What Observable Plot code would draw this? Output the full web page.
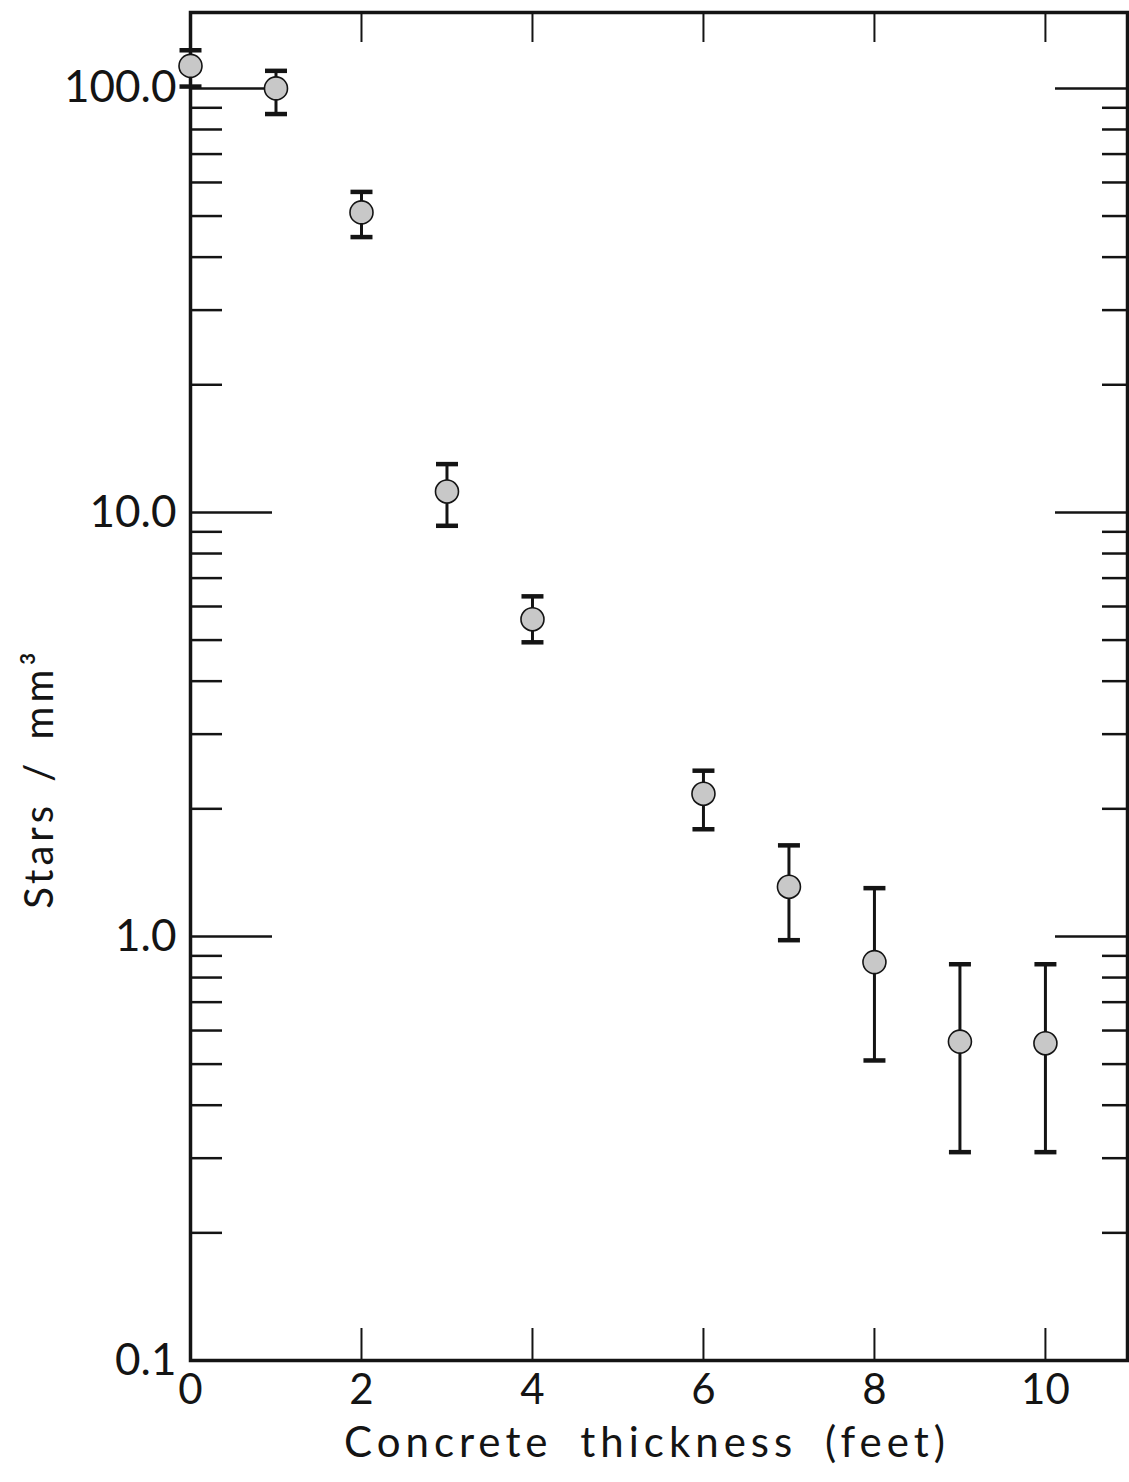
<!DOCTYPE html>
<html><head><meta charset="utf-8">
<script src="https://cdn.jsdelivr.net/npm/d3@7"></script>
<script src="https://cdn.jsdelivr.net/npm/@observablehq/plot@0.6"></script>
<style>
  body { margin: 0; background: #fff; }
  #chart svg { display: block; }
</style>
</head><body><div id="chart"></div>
<script>
// Data
const thickness = [0, 1, 2, 3, 4, 6, 7, 8, 9, 10];
const stars     = [113, 100, 51, 11.2, 5.6, 2.17, 1.31, 0.87, 0.565, 0.56];
const errLow    = [101, 87, 44.6, 9.3, 4.94, 1.79, 0.98, 0.51, 0.31, 0.31];
const errHigh   = [123, 110, 57, 13.0, 6.34, 2.46, 1.64, 1.30, 0.86, 0.86];

// Axis ticks
const xTickLabels = [0, 2, 4, 6, 8, 10];
const xInnerTicks = [2, 4, 6, 8, 10];
const yTickLabels = [0.1, 1, 10, 100];
const yMajorTicks = [1, 10, 100];
const yMinorTicks = [0.2, 0.3, 0.4, 0.5, 0.6, 0.7, 0.8, 0.9,
                     2, 3, 4, 5, 6, 7, 8, 9,
                     20, 30, 40, 50, 60, 70, 80, 90];
const xTitle = "Concrete thickness (feet)";
const yTitle = "Stars / mm³";

const data = thickness.map((x, i) => ({x, y: stars[i], lo: errLow[i], hi: errHigh[i]}));

const W = 1129, H = 1482, mL = 190, mT = 12, mR = 2, mB = 122;
const pW = W - mL - mR, pH = H - mT - mB;
const ink = "#141414";
const font = "Lato, 'DejaVu Sans', sans-serif";

const capSymbol = {
  draw(context, size) {
    const w = Math.sqrt(size / Math.PI);
    context.moveTo(-w, 0);
    context.lineTo(w, 0);
  }
};

const chart = Plot.plot({
  width: W, height: H,
  marginLeft: mL, marginTop: mT, marginRight: mR, marginBottom: mB,
  style: {fontFamily: font, color: ink, background: "#fff"},
  x: {domain: [0, 10.96], axis: null},
  y: {type: "log", domain: [0.1, 151], axis: null},
  marks: [
    // inward ticks
    Plot.tickY(yMajorTicks, {y: d => d, insetRight: pW - 82, stroke: ink, strokeWidth: 2.5}),
    Plot.tickY(yMajorTicks, {y: d => d, insetLeft: pW - 72, stroke: ink, strokeWidth: 2.5}),
    Plot.tickY(yMinorTicks, {y: d => d, insetRight: pW - 32, stroke: ink, strokeWidth: 2.5}),
    Plot.tickY(yMinorTicks, {y: d => d, insetLeft: pW - 25, stroke: ink, strokeWidth: 2.5}),
    Plot.tickX(xInnerTicks, {x: d => d, insetTop: pH - 32, stroke: ink, strokeWidth: 2}),
    Plot.tickX(xInnerTicks, {x: d => d, insetBottom: pH - 30, stroke: ink, strokeWidth: 2}),
    Plot.frame({stroke: ink, strokeWidth: 3.5}),
    // tick labels
    Plot.axisX(xTickLabels, {tickSize: 0, tickPadding: 14, fontSize: 42, fontWeight: 400, label: null, tickFormat: d => String(d)}),
    Plot.axisY(yTickLabels, {tickSize: 0, tickPadding: 14, fontSize: 44, fontWeight: 400, label: null, tickFormat: d => d.toFixed(1)}),
    // axis titles
    Plot.text([xTitle], {frameAnchor: "bottom", dx: -12, dy: 96, text: d => d, fontSize: 42, fontWeight: 400, fill: ink}),
    Plot.text([yTitle], {frameAnchor: "left", textAnchor: "middle", dx: -150, dy: 92, rotate: -90, text: d => d, fontSize: 40, fontWeight: 400, fill: ink}),
    // error bars
    Plot.ruleX(data, {x: "x", y1: "lo", y2: "hi", stroke: ink, strokeWidth: 3}),
    Plot.dot(data, {x: "x", y: "lo", symbol: capSymbol, r: 11, fill: "none", stroke: ink, strokeWidth: 4.5}),
    Plot.dot(data, {x: "x", y: "hi", symbol: capSymbol, r: 11, fill: "none", stroke: ink, strokeWidth: 4.5}),
    // points
    Plot.dot(data, {x: "x", y: "y", r: 11.5, fill: "#c8c8c8", stroke: ink, strokeWidth: 1.6})
  ]
});

d3.select(chart).selectAll("text").each(function() {
  const t = this.textContent;
  if (t === xTitle) d3.select(this).style("letter-spacing", "5px").style("word-spacing", "12px");
  if (t === yTitle) d3.select(this).style("letter-spacing", "4px").style("word-spacing", "6px");
});

document.getElementById("chart").appendChild(chart);
</script>
</body></html>
